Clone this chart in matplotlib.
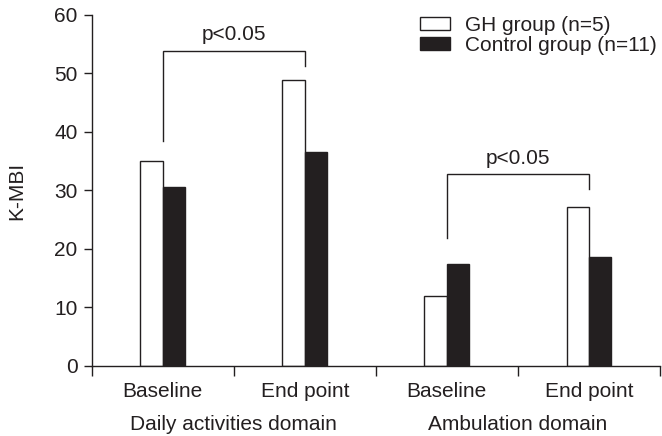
import matplotlib
matplotlib.use("Agg")
import matplotlib.pyplot as plt
from matplotlib.patches import Patch
import matplotlib.transforms as mtransforms

plt.rcParams['font.family'] = ['Liberation Sans', 'DejaVu Sans']

categories = ["Baseline", "End point", "Baseline", "End point"]
domains = ["Daily activities domain", "Ambulation domain"]
gh_values = [35.0, 48.9, 12.0, 27.1]
control_values = [30.6, 36.5, 17.5, 18.7]
series_labels = ["GH group (n=5)", "Control group (n=11)"]
p_label = "p<0.05"
y_label = "K-MBI"
y_ticks = [0, 10, 20, 30, 40, 50, 60]

dark = "#231f20"
fs = 15

fig = plt.figure(figsize=(6.62, 4.36), dpi=100)
ax = fig.add_axes([0.1384, 0.1606, 0.997 - 0.1384, 0.9656 - 0.1606])

n = len(categories)
centers = [i + 0.5 for i in range(n)]
w = 0.158
ax.bar([c - w for c in centers], gh_values, width=w, align='edge',
       color='white', edgecolor=dark, linewidth=1.0, label=series_labels[0])
ax.bar(centers, control_values, width=w, align='edge',
       color=dark, edgecolor=dark, linewidth=1.0, label=series_labels[1])

ax.set_xlim(0, n)
ax.set_ylim(0, 60)
ax.set_yticks(y_ticks)
ax.set_xticks(range(n + 1))
ax.set_xticklabels([])
ax.set_xticks(centers, minor=True)
ax.set_xticklabels(categories, minor=True)
ax.tick_params(axis='x', which='minor', length=0, pad=11.5, labelsize=fs, colors=dark)
ax.tick_params(axis='x', which='major', length=7, width=1, direction='out', colors=dark)
ax.tick_params(axis='y', length=6, width=1, direction='out', labelsize=fs, colors=dark, pad=4)
for s in ['top', 'right']:
    ax.spines[s].set_visible(False)
for s in ['left', 'bottom']:
    ax.spines[s].set_color(dark)
    ax.spines[s].set_linewidth(1.0)

trans = mtransforms.blended_transform_factory(ax.transData, ax.transAxes)
for i, d in enumerate(domains):
    ax.text(2 * i + 1, -0.168, d, transform=trans, ha='center', va='center',
            fontsize=fs, color=dark)

ax.set_ylabel(y_label, fontsize=fs, color=dark, labelpad=20)

# significance brackets
def bracket(x1, x2, y1, y2, top, ty):
    ax.plot([x1, x1, x2, x2], [y1, top, top, y2], color=dark, lw=1.0,
            solid_joinstyle='miter', clip_on=False)
    ax.text((x1 + x2) / 2, ty, p_label, ha='center', va='center', fontsize=fs, color=dark)

bracket(centers[0], centers[1], 38.5, 51.2, 53.8, 56.6)
bracket(centers[2], centers[3], 21.9, 30.2, 32.9, 35.5)

handles = [Patch(facecolor='white', edgecolor=dark, linewidth=1.0),
           Patch(facecolor=dark, edgecolor=dark, linewidth=1.0)]
leg = fig.legend(handles, series_labels, loc='upper left',
                 bbox_to_anchor=(420 / 662, 1 - 16 / 436), frameon=False,
                 fontsize=fs, handlelength=1.44, handleheight=0.6,
                 handletextpad=0.72, labelspacing=0.05, borderaxespad=0, borderpad=0)
for t in leg.get_texts():
    t.set_color(dark)

fig.savefig("out.png", dpi=100)
